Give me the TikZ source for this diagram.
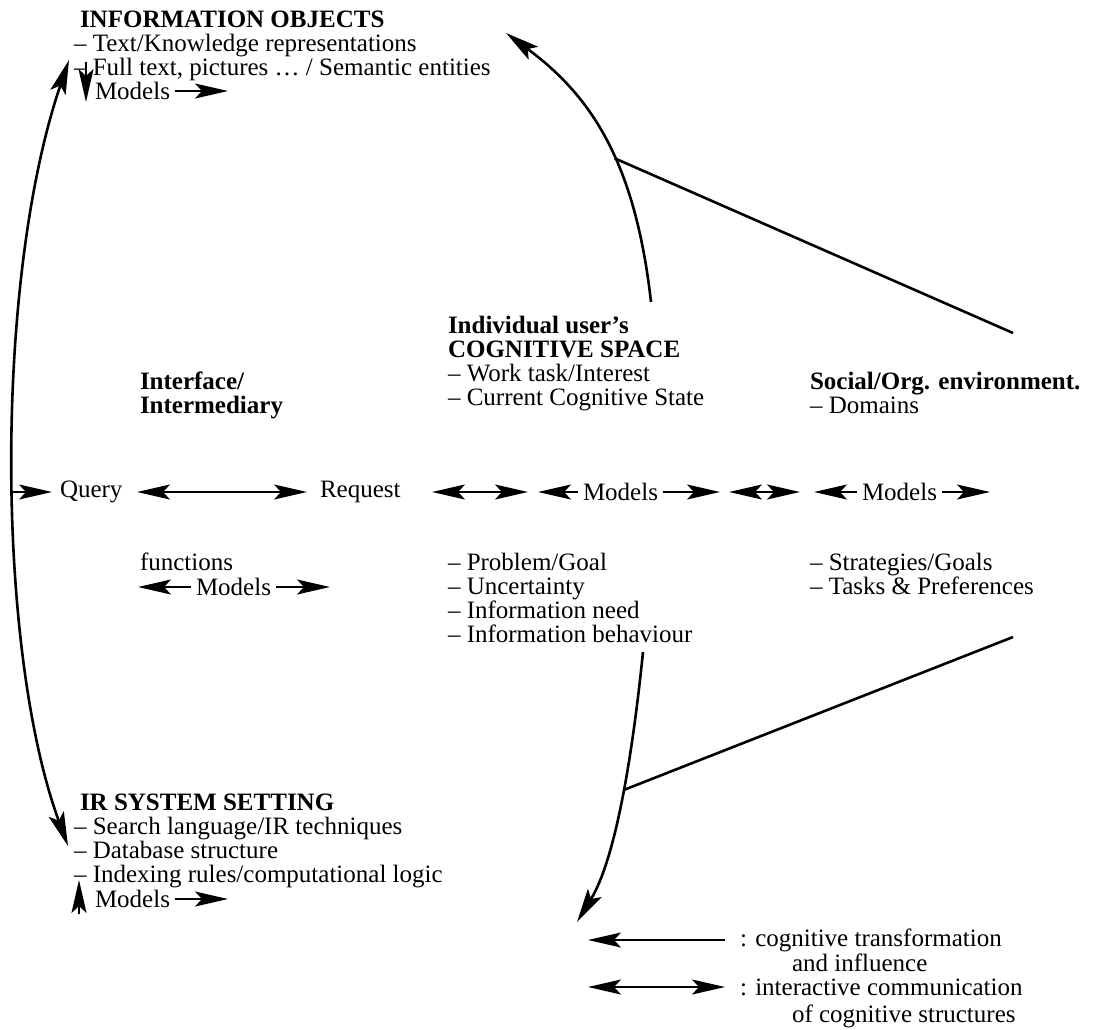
\documentclass[tikz,border=0pt]{standalone}
\usepackage{fontspec}
\setmainfont{Liberation Serif}
\usetikzlibrary{arrows.meta}
\begin{document}
\begin{tikzpicture}[x=1pt,y=-1pt,
  every node/.style={inner sep=0pt, outer sep=0pt},
  txt/.style={anchor=base west, font=\fontsize{25}{28}\selectfont},
  hd/.style={anchor=base west, font=\fontsize{25}{28}\selectfont\bfseries},
  lbl/.style={anchor=west, font=\fontsize{25}{28}\selectfont},
  one/.style={line width=1.8pt, -{Stealth[length=33pt,width=15pt,inset=7pt]}},
  two/.style={line width=1.8pt, {Stealth[length=33pt,width=15pt,inset=7pt]}-{Stealth[length=33pt,width=15pt,inset=7pt]}},
  bow/.style={line width=2.6pt},
  bowtip/.style={line width=2.6pt, -{Stealth[length=34pt,width=16pt,inset=7pt]}},
  bowtwo/.style={line width=2.6pt, {Stealth[length=34pt,width=16pt,inset=7pt]}-{Stealth[length=34pt,width=16pt,inset=7pt]}},
]
\useasboundingbox (0,0) rectangle (1119,1029);

% ---------- information objects ----------
\node[hd]  (io)  at (80,27)  {INFORMATION OBJECTS};
\node[txt] (io1) at (74,51)  {– Text/Knowledge representations};
\node[txt] (io2) at (74,75)  {– Full text, pictures … / Semantic entities};
\node[lbl] (iom) at (95,91)  {Models};
\coordinate (iomR) at (228,91);
\draw[one] ([xshift=5pt]iom.east) -- (iomR);
\coordinate (ioDa) at (86,62);
\coordinate (ioDb) at (86,102);
\draw[one] (ioDa) -- (ioDb);

% ---------- IR system setting ----------
\node[hd]  (ir)  at (80,810) {IR SYSTEM SETTING};
\node[txt] (ir1) at (74,834) {– Search language/IR techniques};
\node[txt] (ir2) at (74,858) {– Database structure};
\node[txt] (ir3) at (74,882) {– Indexing rules/computational logic};
\node[lbl] (irm) at (95,899) {Models};
\coordinate (irmR) at (228,899);
\draw[one] ([xshift=5pt]irm.east) -- (irmR);
\coordinate (irUa) at (79,914);
\coordinate (irUb) at (79,880);
\draw[one] (irUa) -- (irUb);

% ---------- long arc between objects and system ----------
\coordinate (arcT) at (69,60);
\coordinate (arcB) at (68,846);
\draw[bowtwo] (arcB) .. controls (-4,650) and (-6,280) .. coordinate[pos=0.5] (arcM) (arcT);

% ---------- interface / intermediary ----------
\node[hd]  (if1) at (140,389) {Interface/};
\node[hd]  (if2) at (140,413) {Intermediary};
\node[txt] (if3) at (140,570) {functions};
\node[lbl] (ifm) at (196,587) {Models};
\coordinate (ifmL) at (138,587);
\coordinate (ifmR) at (330,587);
\draw[one] ([xshift=-5pt]ifm.west) -- (ifmL);
\draw[one] ([xshift=5pt]ifm.east) -- (ifmR);

% ---------- cognitive space ----------
\node[hd]  (cs1) at (448,333) {Individual user’s};
\node[hd]  (cs2) at (448,357) {COGNITIVE SPACE};
\node[txt] (cs3) at (448,381) {– Work task/Interest};
\node[txt] (cs4) at (448,405) {– Current Cognitive State};
\node[txt] (cs5) at (448,570) {– Problem/Goal};
\node[txt] (cs6) at (448,594) {– Uncertainty};
\node[txt] (cs7) at (448,618) {– Information need};
\node[txt] (cs8) at (448,642) {– Information behaviour};

% ---------- social / organisational environment ----------
\node[hd]  (so1) at (810,389) {Social/Org. environment.};
\node[txt] (so2) at (810,413) {– Domains};
\node[txt] (so3) at (810,570) {– Strategies/Goals};
\node[txt] (so4) at (810,594) {– Tasks \& Preferences};

% ---------- communication row ----------
\node[lbl] (qry) at (60,492)  {Query};
\node[lbl] (req) at (320,492) {Request};
\node[lbl] (m1)  at (583,492) {Models};
\node[lbl] (m2)  at (862,492) {Models};
\coordinate (qR) at (52,492);
\draw[one] (arcM |- qR) -- (qR);
\coordinate (a1L) at (137,492); \coordinate (a1R) at (307,492);
\draw[two] (a1L) -- (a1R);
\coordinate (a2L) at (432,492); \coordinate (a2R) at (528,492);
\draw[two] (a2L) -- (a2R);
\coordinate (m1L) at (538,492); \coordinate (m1R) at (720,492);
\draw[one] ([xshift=-5pt]m1.west) -- (m1L);
\draw[one] ([xshift=5pt]m1.east) -- (m1R);
\coordinate (a3L) at (729,492); \coordinate (a3R) at (800,492);
\draw[two] (a3L) -- (a3R);
\coordinate (m2L) at (814,492); \coordinate (m2R) at (990,492);
\draw[one] ([xshift=-5pt]m2.west) -- (m2L);
\draw[one] ([xshift=5pt]m2.east) -- (m2R);

% ---------- influence of the cognitive space ----------
\coordinate (upS) at (651,302);
\coordinate (upT) at (506,33);
\draw[bowtip] (upS) .. controls (635,160) and (590,95) .. coordinate[pos=0.42] (upJ) (upT);
\coordinate (upE) at (1013,333);
\draw[bow] (upE) -- (upJ);

\coordinate (dnS) at (643,652);
\coordinate (dnT) at (577,922);
\draw[bowtip] (dnS) .. controls (632,760) and (615,860) .. coordinate[pos=0.45] (dnJ) (dnT);
\coordinate (dnE) at (1013,637);
\draw[bow] (dnE) -- (dnJ);

% ---------- legend ----------
\coordinate (lg1L) at (588,940); \coordinate (lg1R) at (725,940);
\draw[one] (lg1R) -- (lg1L);
\node[lbl] (lg1) at (740,940)  {: cognitive transformation};
\node[txt] (lg2) at (792,971)  {and influence};
\coordinate (lg2L) at (588,987); \coordinate (lg2R) at (725,987);
\draw[two] (lg2L) -- (lg2R);
\node[lbl] (lg3) at (740,987)  {: interactive communication};
\node[txt] (lg4) at (792,1022) {of cognitive structures};
\end{tikzpicture}
\end{document}
